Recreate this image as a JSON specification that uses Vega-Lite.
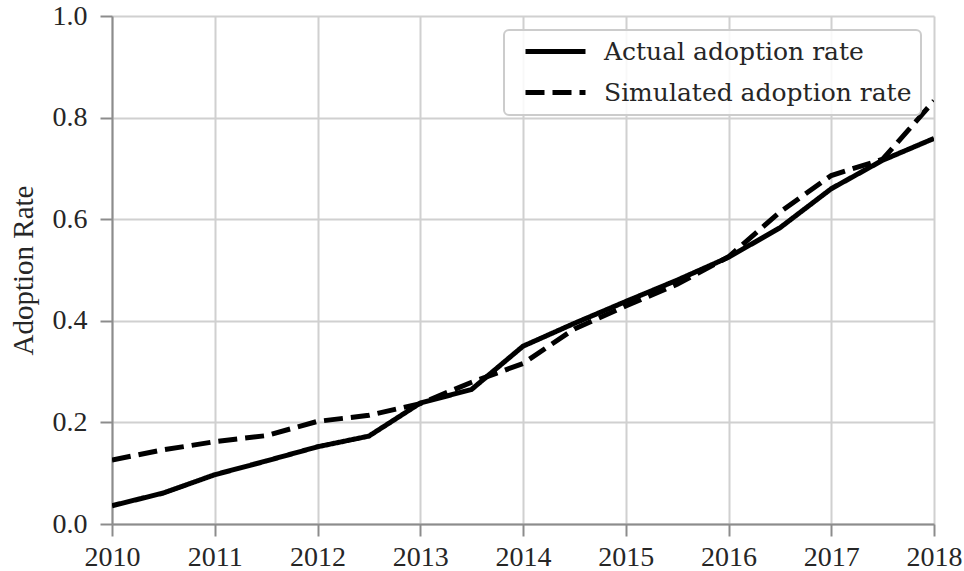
{
  "$schema": "https://vega.github.io/schema/vega-lite/v6.json",
  "width": 822,
  "height": 508,
  "autosize": {"type": "none"},
  "padding": {"left": 112, "top": 16, "right": 30, "bottom": 47},
  "background": "white",
  "config": {
    "font": "Liberation Serif",
    "view": {"stroke": null},
    "axis": {
      "labelFont": "Liberation Serif",
      "titleFont": "Liberation Serif",
      "labelFontSize": 28,
      "titleFontSize": 29,
      "titleFontWeight": "normal",
      "labelColor": "#262626",
      "titleColor": "#262626",
      "domainColor": "#8c8c8c",
      "domainWidth": 2,
      "tickColor": "#8c8c8c",
      "tickWidth": 2,
      "tickSize": 12,
      "gridColor": "#d0d0d0",
      "gridWidth": 2
    },
    "legend": {
      "labelFont": "DejaVu Serif",
      "labelFontSize": 25,
      "labelColor": "#262626",
      "labelLimit": 500
    }
  },
  "data": {
    "values": [
      {"year": 2010, "series": "Actual adoption rate", "rate": 0.036},
      {"year": 2010.5, "series": "Actual adoption rate", "rate": 0.061},
      {"year": 2011, "series": "Actual adoption rate", "rate": 0.097},
      {"year": 2011.5, "series": "Actual adoption rate", "rate": 0.124},
      {"year": 2012, "series": "Actual adoption rate", "rate": 0.152},
      {"year": 2012.5, "series": "Actual adoption rate", "rate": 0.173},
      {"year": 2013, "series": "Actual adoption rate", "rate": 0.238},
      {"year": 2013.5, "series": "Actual adoption rate", "rate": 0.265},
      {"year": 2014, "series": "Actual adoption rate", "rate": 0.350},
      {"year": 2014.5, "series": "Actual adoption rate", "rate": 0.395},
      {"year": 2015, "series": "Actual adoption rate", "rate": 0.438},
      {"year": 2015.5, "series": "Actual adoption rate", "rate": 0.480},
      {"year": 2016, "series": "Actual adoption rate", "rate": 0.525},
      {"year": 2016.5, "series": "Actual adoption rate", "rate": 0.583},
      {"year": 2017, "series": "Actual adoption rate", "rate": 0.660},
      {"year": 2017.5, "series": "Actual adoption rate", "rate": 0.716},
      {"year": 2018, "series": "Actual adoption rate", "rate": 0.759},
      {"year": 2010, "series": "Simulated adoption rate", "rate": 0.126},
      {"year": 2010.5, "series": "Simulated adoption rate", "rate": 0.146},
      {"year": 2011, "series": "Simulated adoption rate", "rate": 0.162},
      {"year": 2011.5, "series": "Simulated adoption rate", "rate": 0.174},
      {"year": 2012, "series": "Simulated adoption rate", "rate": 0.202},
      {"year": 2012.5, "series": "Simulated adoption rate", "rate": 0.214},
      {"year": 2013, "series": "Simulated adoption rate", "rate": 0.237},
      {"year": 2013.5, "series": "Simulated adoption rate", "rate": 0.279},
      {"year": 2014, "series": "Simulated adoption rate", "rate": 0.316},
      {"year": 2014.5, "series": "Simulated adoption rate", "rate": 0.384},
      {"year": 2015, "series": "Simulated adoption rate", "rate": 0.429},
      {"year": 2015.5, "series": "Simulated adoption rate", "rate": 0.472},
      {"year": 2016, "series": "Simulated adoption rate", "rate": 0.526},
      {"year": 2016.5, "series": "Simulated adoption rate", "rate": 0.614},
      {"year": 2017, "series": "Simulated adoption rate", "rate": 0.686},
      {"year": 2017.5, "series": "Simulated adoption rate", "rate": 0.718},
      {"year": 2018, "series": "Simulated adoption rate", "rate": 0.833}
    ]
  },
  "mark": {"type": "line", "color": "black", "strokeWidth": 5, "clip": true},
  "encoding": {
    "x": {
      "field": "year",
      "type": "quantitative",
      "scale": {"domain": [2010, 2018], "nice": false, "zero": false},
      "axis": {"values": [2010, 2011, 2012, 2013, 2014, 2015, 2016, 2017, 2018], "format": "d", "title": null, "labelPadding": 7, "labelFlush": false}
    },
    "y": {
      "field": "rate",
      "type": "quantitative",
      "scale": {"domain": [0, 1], "nice": false},
      "axis": {"values": [0, 0.2, 0.4, 0.6, 0.8, 1.0], "format": ".1f", "title": "Adoption Rate", "titlePadding": 14, "labelPadding": 13, "labelFlush": false}
    },
    "strokeDash": {
      "field": "series",
      "type": "nominal",
      "scale": {"domain": ["Actual adoption rate", "Simulated adoption rate"], "range": [[1, 0], [19, 8]]},
      "legend": {
        "title": null,
        "orient": "none",
        "legendX": 392,
        "legendY": 14,
        "symbolType": "M0,0H6",
        "symbolSize": 400,
        "symbolStrokeWidth": 5,
        "symbolStrokeColor": "black",
        "fillColor": "rgba(255,255,255,0.85)",
        "strokeColor": "#cccccc",
        "cornerRadius": 5,
        "padding": 9,
        "rowPadding": 15,
        "labelOffset": 66,
        "encode": {"legend": {"update": {"strokeWidth": {"value": 2}}}}
      }
    }
  }
}
